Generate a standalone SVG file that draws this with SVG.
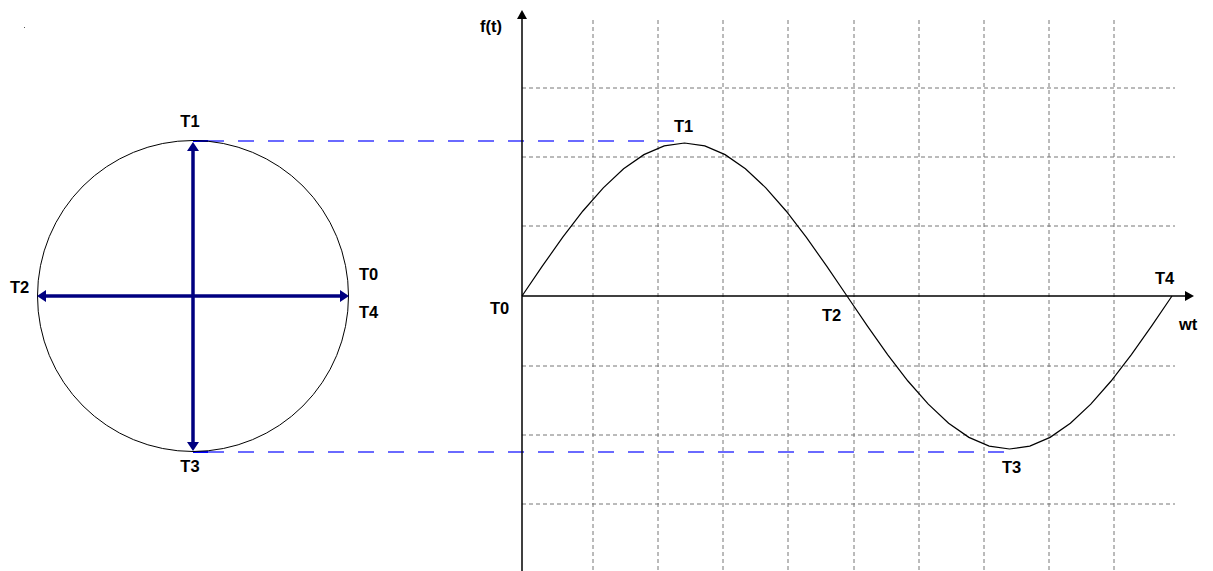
<svg xmlns="http://www.w3.org/2000/svg" width="1213" height="571" viewBox="0 0 1213 571">
<style>
  .lbl { font-family: "Liberation Sans", Arial, sans-serif; font-weight: bold; font-size: 16.5px; fill: #000; }
  .grid { stroke: #777; stroke-width: 1; stroke-dasharray: 4 3; fill: none; }
  .proj { stroke: #3a3aff; stroke-width: 1.3; stroke-dasharray: 16 14; fill: none; }
  .vec { stroke: #000080; stroke-width: 3.5; fill: none; }
  .axis { stroke: #000; stroke-width: 1.5; fill: none; }
  .head { fill: #000080; }
</style>
<rect width="1213" height="571" fill="#fff"/>
<rect x="24" y="27" width="1" height="1" fill="#555"/>

<g id="grid">
  <path class="grid" d="M593,20V571 M658,20V571 M723,20V571 M788,20V571 M854,20V571 M919,20V571 M984,20V571 M1049,20V571 M1114,20V571"/>
  <path class="grid" d="M522,88H1175 M522,157H1175 M522,226H1175 M522,366H1175 M522,435H1175 M522,504H1175"/>
</g>

<g id="connectors">
  <path class="proj" d="M208,141H686"/>
  <path class="proj" d="M208,452H1014"/>
  <path d="M193,141H208 M193,452H208" stroke="#0000ff" stroke-width="2"/>
</g>

<g id="circle-node">
  <circle cx="193" cy="296" r="155.5" fill="none" stroke="#000" stroke-width="1"/>
  <line class="vec" x1="193" y1="150" x2="193" y2="443"/>
  <line class="vec" x1="45" y1="296" x2="341" y2="296"/>
  <path class="head" d="M193,142 L187,151 L199,151 Z M193,451 L187,442 L199,442 Z M37,296 L46,290 L46,302 Z M349,296 L340,290 L340,302 Z"/>
  <text class="lbl" x="190" y="127" text-anchor="middle">T1</text>
  <text class="lbl" x="10" y="293">T2</text>
  <text class="lbl" x="359" y="280">T0</text>
  <text class="lbl" x="359" y="318">T4</text>
  <text class="lbl" x="190" y="472" text-anchor="middle">T3</text>
</g>

<g id="axes">
  <line class="axis" x1="522" y1="571" x2="522" y2="18"/>
  <path d="M522,10 L517,19 L527,19 Z" fill="#000"/>
  <line class="axis" x1="522" y1="296" x2="1185" y2="296"/>
  <path d="M1194,296 L1185,291 L1185,301 Z" fill="#000"/>
  <text class="lbl" x="480" y="32">f(t)</text>
  <text class="lbl" x="1179" y="330">wt</text>
</g>

<g id="sine-node">
  <polyline fill="none" stroke="#000" stroke-width="1.2" points="522,296 542.3,266.15 562.6,237.45 582.9,211 603.3,187.81 623.6,168.79 643.9,154.65 664.2,145.94 684.5,143 704.8,145.94 725.1,154.65 745.4,168.79 765.8,187.81 786.1,211 806.4,237.45 826.7,266.15 847,296 867.3,325.85 887.6,354.55 907.9,381 928.3,404.19 948.6,423.21 968.9,437.35 989.2,446.06 1009.5,449 1029.8,446.06 1050.1,437.35 1070.4,423.21 1090.8,404.19 1111.1,381 1131.4,354.55 1151.7,325.85 1172,296"/>
  <text class="lbl" x="674" y="132">T1</text>
  <text class="lbl" x="490" y="314">T0</text>
  <text class="lbl" x="822" y="321">T2</text>
  <text class="lbl" x="1002" y="473">T3</text>
  <text class="lbl" x="1155" y="284">T4</text>
</g>
</svg>
